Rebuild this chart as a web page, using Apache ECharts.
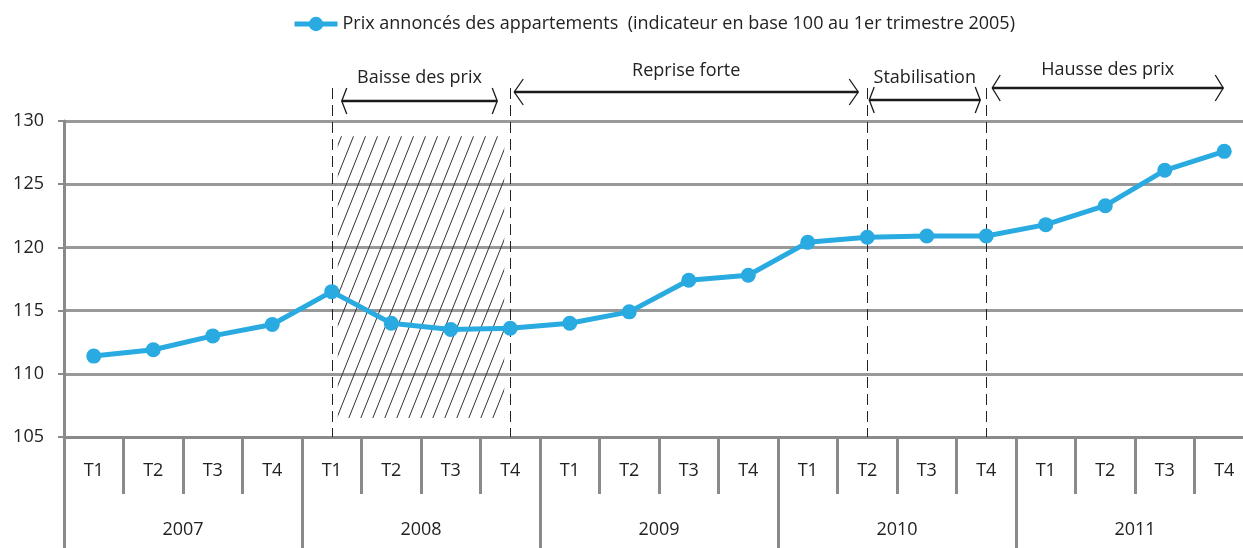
<!DOCTYPE html>
<html>
<head>
<meta charset="UTF-8">
<title>Prix annoncés des appartements</title>
<script src="https://cdn.jsdelivr.net/npm/echarts@6/dist/echarts.min.js"></script>
<style>
	body { margin: 0; background: #fff; }
	#chart { width: 1243px; height: 548px; }
</style>
</head>
<body>
<div id="chart"></div>
<script>
	// donnees
	var quarters = ['T1','T2','T3','T4','T1','T2','T3','T4','T1','T2','T3','T4','T1','T2','T3','T4','T1','T2','T3','T4'];
	var years = ['2007', '2008', '2009', '2010', '2011'];
	var prix = [111.4, 111.9, 113.0, 113.9, 116.5, 114.0, 113.5, 113.6, 114.0, 114.9,
		117.4, 117.8, 120.4, 120.8, 120.9, 120.9, 121.8, 123.3, 126.1, 127.6];
	var serieName = 'Prix annoncés des appartements  (indicateur en base 100 au 1er trimestre 2005)';

	// periodes annotees (index de trimestre)
	var periodNames = ['Baisse des prix', 'Reprise forte', 'Stabilisation', 'Hausse des prix'];
	var periodStart = [4, 7, 13, 15];
	var periodEnd = [7, 13, 15, 19];
	var dashedAt = [4, 7, 13, 15];
	var hatchStart = 4, hatchEnd = 7, hatchLow = 106.5, hatchHigh = 128.8;

	// mise en forme des fleches (pixels)
	var arrowY = [101, 92, 100, 88];
	var labelY = [78, 71, 78, 70];
	var insetL = [10, 4, 2, 6];
	var insetR = [13, 9, 6, 1];
	var headW = [5, 9, 5, 8];

	var font = '"Open Sans", "Liberation Sans", sans-serif';
	var grey = '#8a8a8a';

	var chart = echarts.init(document.getElementById('chart'));

	var option = {
		animation: false,
		legend: {
			top: 10, left: 287,
			itemWidth: 43, itemHeight: 18, itemGap: 0,
			lineStyle: { width: 5 },
			textStyle: { fontFamily: font, fontSize: 18, color: '#222' },
			data: [serieName]
		},
		grid: { left: 64, right: -11, top: 121, bottom: 111, containLabel: false, outerBoundsMode: 'none' },
		xAxis: [{
			type: 'category', data: quarters, boundaryGap: true,
			axisLine: { show: true, lineStyle: { color: grey, width: 3 } },
			axisTick: { show: true, length: 57, interval: 0, lineStyle: { color: grey, width: 3 } },
			axisLabel: { show: true, interval: 0, margin: 25, color: '#222', fontFamily: font, fontSize: 18 }
		}, {
			type: 'category', data: years, position: 'bottom', boundaryGap: true,
			axisLine: { show: false },
			axisTick: { show: true, length: 111, interval: 0, lineStyle: { color: grey, width: 3 } },
			axisLabel: { show: true, interval: 0, margin: 84, color: '#222', fontFamily: font, fontSize: 18 }
		}],
		yAxis: {
			type: 'value', min: 105, max: 130, interval: 5,
			axisLine: { show: true, lineStyle: { color: grey, width: 3 } },
			axisTick: { show: true, length: 6, lineStyle: { color: grey, width: 2 } },
			axisLabel: { margin: 20, color: '#222', fontFamily: font, fontSize: 18 },
			splitLine: { show: true, lineStyle: { color: '#999', width: 3 } }
		},
		series: [{
			name: serieName, type: 'line', data: prix,
			symbol: 'circle', symbolSize: 15,
			lineStyle: { color: '#29abe2', width: 5 },
			itemStyle: { color: '#29abe2' },
			z: 5
		}]
	};
	chart.setOption(option);

	function px(i) { return chart.convertToPixel({ xAxisIndex: 0 }, i); }
	function py(v) { return chart.convertToPixel({ yAxisIndex: 0 }, v); }

	// motif hachure
	var pc = document.createElement('canvas');
	pc.width = 12; pc.height = 30;
	var ctx = pc.getContext('2d');
	ctx.strokeStyle = '#333'; ctx.lineWidth = 1;
	for (var k = -1; k <= 1; k++) {
		ctx.beginPath();
		ctx.moveTo(k * 12, 30); ctx.lineTo(k * 12 + 12, 0);
		ctx.stroke();
	}

	var graphics = [];
	var x0 = px(hatchStart) + 6, x1 = px(hatchEnd) - 6;
	var y0 = py(hatchHigh), y1 = py(hatchLow);
	graphics.push({
		type: 'rect', z: 1, silent: true,
		shape: { x: x0, y: y0, width: x1 - x0, height: y1 - y0 },
		style: { fill: { image: pc, repeat: 'repeat' } }
	});

	var axisY = py(105);
	dashedAt.forEach(function (i) {
		var x = Math.round(px(i)) + 0.5;
		graphics.push({
			type: 'line', z: 2, silent: true,
			shape: { x1: x, y1: 88, x2: x, y2: axisY },
			style: { stroke: '#222', lineWidth: 1, lineDash: [11, 6] }
		});
	});

	periodNames.forEach(function (name, j) {
		var xa = px(periodStart[j]) + insetL[j];
		var xb = px(periodEnd[j]) - insetR[j];
		var y = arrowY[j], w = headW[j];
		graphics.push({
			type: 'line', z: 3, silent: true,
			shape: { x1: xa, y1: y, x2: xb, y2: y },
			style: { stroke: '#1a1a1a', lineWidth: 2.5 }
		});
		graphics.push({
			type: 'polyline', z: 3, silent: true,
			shape: { points: [[xa + w, y - 13], [xa, y], [xa + w, y + 13]] },
			style: { stroke: '#1a1a1a', lineWidth: 1.3, fill: null }
		});
		graphics.push({
			type: 'polyline', z: 3, silent: true,
			shape: { points: [[xb - w, y - 13], [xb, y], [xb - w, y + 13]] },
			style: { stroke: '#1a1a1a', lineWidth: 1.3, fill: null }
		});
		graphics.push({
			type: 'text', z: 3, silent: true,
			x: (xa + xb) / 2, y: labelY[j],
			style: {
				text: name, fill: '#222', font: '18px ' + font,
				textAlign: 'center', textVerticalAlign: 'middle'
			}
		});
	});

	chart.setOption({ graphic: graphics });
</script>
</body>
</html>
